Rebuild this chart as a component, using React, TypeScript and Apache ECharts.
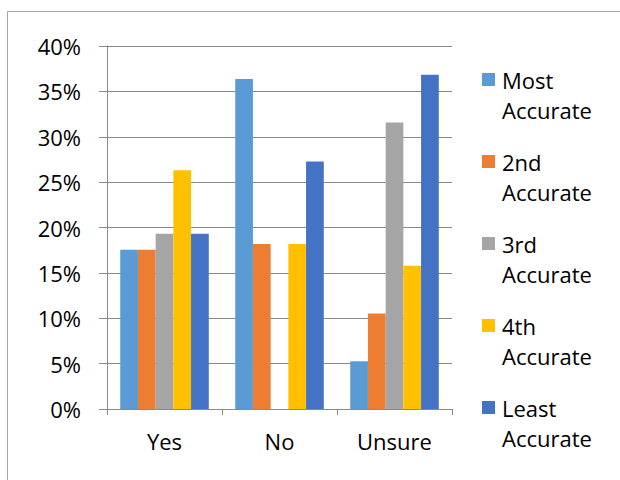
import React, { useEffect, useRef } from "react";
import * as echarts from "echarts";

const categories = ["Yes", "No", "Unsure"];
const seriesNames = ["Most Accurate", "2nd Accurate", "3rd Accurate", "4th Accurate", "Least Accurate"];
const mostAccurate = [17.54, 36.36, 5.26];
const secondAccurate = [17.54, 18.18, 10.53];
const thirdAccurate = [19.3, 0, 31.58];
const fourthAccurate = [26.32, 18.18, 15.79];
const leastAccurate = [19.3, 27.27, 36.84];
const seriesColors = ["#5B9BD5", "#ED7D31", "#A5A5A5", "#FFC000", "#4472C4"];
const yTicks = { min: 0, max: 40, interval: 5 };

export default function App() {
  const ref = useRef<HTMLDivElement>(null);
  useEffect(() => {
    if (!ref.current) return;
    const chart = echarts.init(ref.current, null, { renderer: "svg" });
    const values = [mostAccurate, secondAccurate, thirdAccurate, fourthAccurate, leastAccurate];
    const font = "'Open Sans', sans-serif";
    chart.setOption({
      animation: false,
      backgroundColor: "#fff",
      color: seriesColors,
      textStyle: { fontFamily: font },
      graphic: [
        {
          type: "rect",
          shape: { x: 7.5, y: 11.5, width: 700, height: 600 },
          style: { fill: "none", stroke: "#a6a6a6", lineWidth: 1 },
          silent: true,
        },
      ],
      grid: { left: 107, top: 46, width: 345, height: 363, containLabel: false },
      legend: {
        orient: "vertical",
        left: 482,
        top: 34.5,
        padding: 0,
        itemGap: -8,
        itemWidth: 13,
        itemHeight: 13,
        itemStyle: { borderWidth: 0 },
        icon: "rect",
        data: seriesNames,
        formatter: (name: string) => {
          const parts = name.split(" ");
          return "{t| }\n{t|" + parts[0] + "}\n{t|" + parts[1] + "}";
        },
        textStyle: {
          fontFamily: font,
          fontSize: 22,
          color: "#000",
          lineHeight: 30,
          rich: {
            t: {
              fontFamily: font,
              fontSize: 22,
              color: "#000",
              lineHeight: 30,
              padding: [0, 0, 0, 2],
            },
          },
        },
      },
      xAxis: {
        type: "category",
        data: categories,
        axisLine: { show: true, lineStyle: { color: "#898989", width: 1 } },
        axisTick: { show: true, length: 6, lineStyle: { color: "#898989" } },
        axisLabel: { fontFamily: font, fontSize: 22, color: "#000", margin: 21 },
      },
      yAxis: {
        type: "value",
        min: yTicks.min,
        max: yTicks.max,
        interval: yTicks.interval,
        axisLine: { show: true, lineStyle: { color: "#898989", width: 1 } },
        axisTick: { show: true, length: 8, lineStyle: { color: "#898989" } },
        splitLine: { show: true, lineStyle: { color: "#898989", width: 1 } },
        axisLabel: {
          fontFamily: font,
          fontSize: 22,
          color: "#000",
          margin: 26,
          formatter: "{value}%",
        },
      },
      series: seriesNames.map((name, i) => ({
        name,
        type: "bar",
        data: values[i],
        barGap: "0%",
        barCategoryGap: "23%",
        itemStyle: { color: seriesColors[i] },
      })),
    });
    return () => chart.dispose();
  }, []);
  return (
    <div
      ref={ref}
      style={{ position: "absolute", left: 0, top: 0, width: 620, height: 480 }}
    />
  );
}
